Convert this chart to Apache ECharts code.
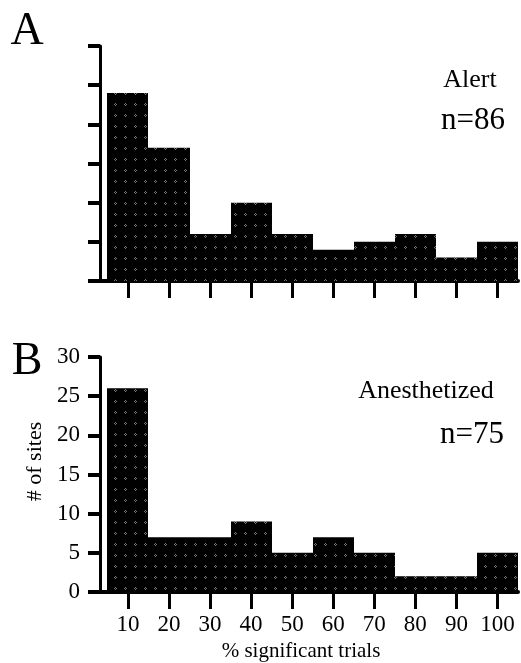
<!DOCTYPE html>
<html>
<head>
<meta charset="utf-8">
<script src="https://cdn.jsdelivr.net/npm/echarts@6/dist/echarts.min.js"></script>
<style>
  html, body { margin: 0; padding: 0; background: #fff; }
  #chart { width: 521px; height: 663px; }
</style>
</head>
<body>
<div id="chart"></div>
<script>
// Histogram bins: % significant trials (bin centers, 10-point wide bins)
const binCenters = [10, 20, 30, 40, 50, 60, 70, 80, 90, 100];
const binWidth = 10;
// Number of recording sites per bin
const alertCounts = [24, 17, 6, 10, 6, 4, 5, 6, 3, 5];        // Alert, n=86
const anesthetizedCounts = [26, 7, 7, 9, 5, 7, 5, 2, 2, 5];  // Anesthetized, n=75
// Count axis
const countMin = 0;
const countMax = 30;
const countStep = 5;

const serif = 'Liberation Serif, Times New Roman, serif';

// Dark stippled fill used for the histogram bars
function makeStipple() {
  const c = document.createElement('canvas');
  c.width = 10; c.height = 11;
  const g = c.getContext('2d');
  g.fillStyle = '#000';
  g.fillRect(0, 0, 10, 11);
  g.fillStyle = 'rgba(150,150,150,0.8)';
  g.fillRect(5, 4, 1, 1);
  g.fillRect(4, 5, 1, 1);
  g.fillRect(6, 5, 1, 1);
  g.fillRect(5, 6, 1, 1);
  return { image: c, repeat: 'repeat' };
}
const stipple = makeStipple();

function binRender(params, api) {
  const x = api.value(0);
  const y = api.value(1);
  const topLeft = api.coord([x - binWidth / 2, y]);
  const bottomRight = api.coord([x + binWidth / 2, 0]);
  const left = Math.round(topLeft[0]);
  const right = Math.round(bottomRight[0]);
  return {
    type: 'rect',
    shape: {
      x: left,
      y: topLeft[1],
      width: right - left,
      height: bottomRight[1] - topLeft[1]
    },
    style: { fill: stipple }
  };
}

function toPairs(counts) {
  return binCenters.map((c, i) => [c, counts[i]]);
}

function xAxisFor(gridIndex, showLabels) {
  return {
    type: 'value',
    gridIndex: gridIndex,
    min: 3.2,
    max: 105,
    splitLine: { show: false },
    axisLine: { show: true, onZero: false, lineStyle: { color: '#000', width: 4 } },
    axisTick: {
      show: true, inside: false, length: 17, customValues: binCenters,
      lineStyle: { color: '#000', width: 3 }
    },
    axisLabel: {
      show: showLabels, customValues: binCenters, margin: 21,
      color: '#000', fontFamily: serif, fontSize: 23
    },
    name: showLabels ? '% significant trials' : '',
    nameLocation: 'middle',
    nameGap: 49,
    nameTextStyle: { color: '#000', fontFamily: serif, fontSize: 21, padding: [0, 16, 0, 0] }
  };
}

function yAxisFor(gridIndex, showLabels) {
  return {
    type: 'value',
    gridIndex: gridIndex,
    min: countMin,
    max: countMax,
    interval: countStep,
    splitLine: { show: false },
    axisLine: { show: true, lineStyle: { color: '#000', width: 3 } },
    axisTick: { show: true, inside: false, length: 12, lineStyle: { color: '#000', width: 4 } },
    axisLabel: {
      show: showLabels, margin: 20,
      color: '#000', fontFamily: serif, fontSize: 23
    },
    name: showLabels ? '# of sites' : '',
    nameLocation: 'middle',
    nameGap: 50,
    nameRotate: 90,
    nameTextStyle: { color: '#000', fontFamily: serif, fontSize: 22, padding: [0, 0, 0, 26] }
  };
}

const chart = echarts.init(document.getElementById('chart'), null, { renderer: 'canvas' });

chart.setOption({
  backgroundColor: '#fff',
  animation: false,
  grid: [
    { left: 100, right: 3, top: 46, height: 235 },
    { left: 100, right: 3, top: 357, height: 235 }
  ],
  xAxis: [xAxisFor(0, false), xAxisFor(1, true)],
  yAxis: [yAxisFor(0, false), yAxisFor(1, true)],
  series: [
    {
      type: 'custom', name: 'Alert', xAxisIndex: 0, yAxisIndex: 0,
      renderItem: binRender, encode: { x: 0, y: 1 }, data: toPairs(alertCounts)
    },
    {
      type: 'custom', name: 'Anesthetized', xAxisIndex: 1, yAxisIndex: 1,
      renderItem: binRender, encode: { x: 0, y: 1 }, data: toPairs(anesthetizedCounts)
    }
  ],
  graphic: [
    { type: 'text', x: 27, y: 32, style: { text: 'A', fontFamily: serif, fontSize: 46, fill: '#000', align: 'center', verticalAlign: 'middle' } },
    { type: 'text', x: 470, y: 80, style: { text: 'Alert', fontFamily: serif, fontSize: 26, fill: '#000', align: 'center', verticalAlign: 'middle' } },
    { type: 'text', x: 473, y: 121, style: { text: 'n=86', fontFamily: serif, fontSize: 31, fill: '#000', align: 'center', verticalAlign: 'middle' } },
    { type: 'text', x: 27, y: 362, style: { text: 'B', fontFamily: serif, fontSize: 46, fill: '#000', align: 'center', verticalAlign: 'middle' } },
    { type: 'text', x: 426, y: 391, style: { text: 'Anesthetized', fontFamily: serif, fontSize: 26, fill: '#000', align: 'center', verticalAlign: 'middle' } },
    { type: 'text', x: 472, y: 435, style: { text: 'n=75', fontFamily: serif, fontSize: 31, fill: '#000', align: 'center', verticalAlign: 'middle' } }
  ]
});
</script>
</body>
</html>
